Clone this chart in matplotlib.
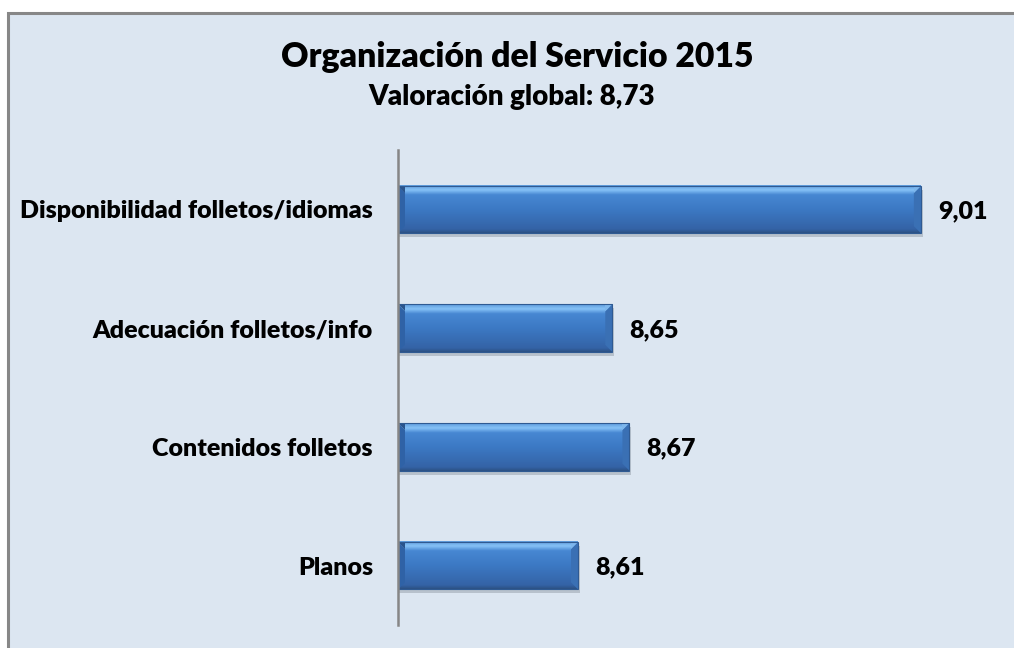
#!/usr/bin/env python3

import numpy as np
import matplotlib
matplotlib.use("Agg")
import matplotlib.pyplot as plt
from matplotlib.patches import Rectangle, Polygon
from matplotlib.colors import LinearSegmentedColormap

# data
categories = ["Disponibilidad folletos/idiomas", "Adecuación folletos/info",
              "Contenidos folletos", "Planos"]
values = [9.01, 8.65, 8.67, 8.61]
value_labels = ["9,01", "8,65", "8,67", "8,61"]
title = "Organización del Servicio 2015"
subtitle = "Valoración global: 8,73"

plt.rcParams['font.family'] = ['Lato', 'DejaVu Sans']

W, H = 1014, 648
fig = plt.figure(figsize=(W / 100, H / 100), dpi=100, facecolor='white')

# outer chart frame
frame = Rectangle((8 / W, -0.01), 1.0, 1 - 13 / H + 0.01, transform=fig.transFigure,
                  facecolor='#DCE6F1', edgecolor='#878787', linewidth=2.2, zorder=-5)
fig.patches.append(frame)

fig.text(517 / W, 1 - 67 / H, title, ha='center', va='baseline',
         fontsize=24.3, fontweight='heavy', color='black')
fig.text(512 / W, 1 - 105 / H, subtitle, ha='center', va='baseline',
         fontsize=20, fontweight='heavy', color='black')

# plot area
left, right, top, bottom = 398, 998, 150, 625
ax = fig.add_axes([left / W, 1 - bottom / H, (right - left) / W, (bottom - top) / H])
ax.set_facecolor('none')
ax.set_zorder(2)
x0, x1 = 8.4, 9.1
ax.set_xlim(x0, x1)
ax.set_ylim(len(categories) - 0.5, -0.5)

ypos = np.arange(len(categories))
bar_h = 0.40

# px -> data conversion for bevels and shadow
px_x = (x1 - x0) / (right - left)
px_y = len(categories) / (bottom - top)

grad = LinearSegmentedColormap.from_list(
    'bar', [(0.0, '#2C5183'), (0.08, '#3463A6'), (0.5, '#3C79C4'),
            (0.8, '#4787D2'), (0.9, '#86C2F7'), (1.0, '#5E9BDC')])
g = np.linspace(0, 1, 200).reshape(-1, 1)

for y, v in zip(ypos, values):
    yt, yb = y - bar_h / 2, y + bar_h / 2
    # shadow
    ax.barh(y + 4 * px_y, v - x0 + 2 * px_x, left=x0, height=bar_h,
            color='#9AA3AE', alpha=0.55, zorder=1)
    # gradient body
    ax.imshow(g, cmap=grad, aspect='auto', extent=(x0, v, yb, yt),
              origin='lower', zorder=2, interpolation='bilinear')
    b = 7
    bx, by = b * px_x, b * px_y
    # left bevel
    ax.add_patch(Polygon([(x0, yt), (x0 + bx, yt + by), (x0 + bx, yb - by), (x0, yb)],
                         closed=True, facecolor='#2F62A6', edgecolor='none', zorder=3))
    ax.add_patch(Polygon([(x0, yt), (x0 + bx, yt), (x0 + bx, yt + by)],
                         closed=True, facecolor='#2A548C', edgecolor='none', zorder=3))
    # right bevel
    ax.add_patch(Polygon([(v, yt), (v - bx, yt + by), (v - bx, yb - by), (v, yb)],
                         closed=True, facecolor='#3A70B4', edgecolor='none', zorder=3))
    ax.add_patch(Polygon([(v, yt), (v - bx, yt), (v - bx, yt + by)],
                         closed=True, facecolor='#7DB6EC', edgecolor='none', zorder=3))
    ax.add_patch(Rectangle((x0, yt), v - x0, bar_h, facecolor='none',
                           edgecolor='#2F5A92', linewidth=0.8, zorder=4))

for y, v, lab in zip(ypos, values, value_labels):
    ax.text(v + 17 * px_x, y + 0.015, lab, ha='left', va='center',
            fontsize=18, fontweight='heavy', color='black')

ax.set_yticks(ypos)
ax.set_yticklabels(categories, fontsize=18, fontweight='heavy')
ax.tick_params(axis='y', length=0, pad=18)
ax.set_xticks([])
for s in ['top', 'right', 'bottom']:
    ax.spines[s].set_visible(False)
ax.spines['left'].set_color('#868686')
ax.spines['left'].set_linewidth(1.8)
ax.spines['left'].set_zorder(5)

fig.savefig('out.png', dpi=100, facecolor=fig.get_facecolor())
